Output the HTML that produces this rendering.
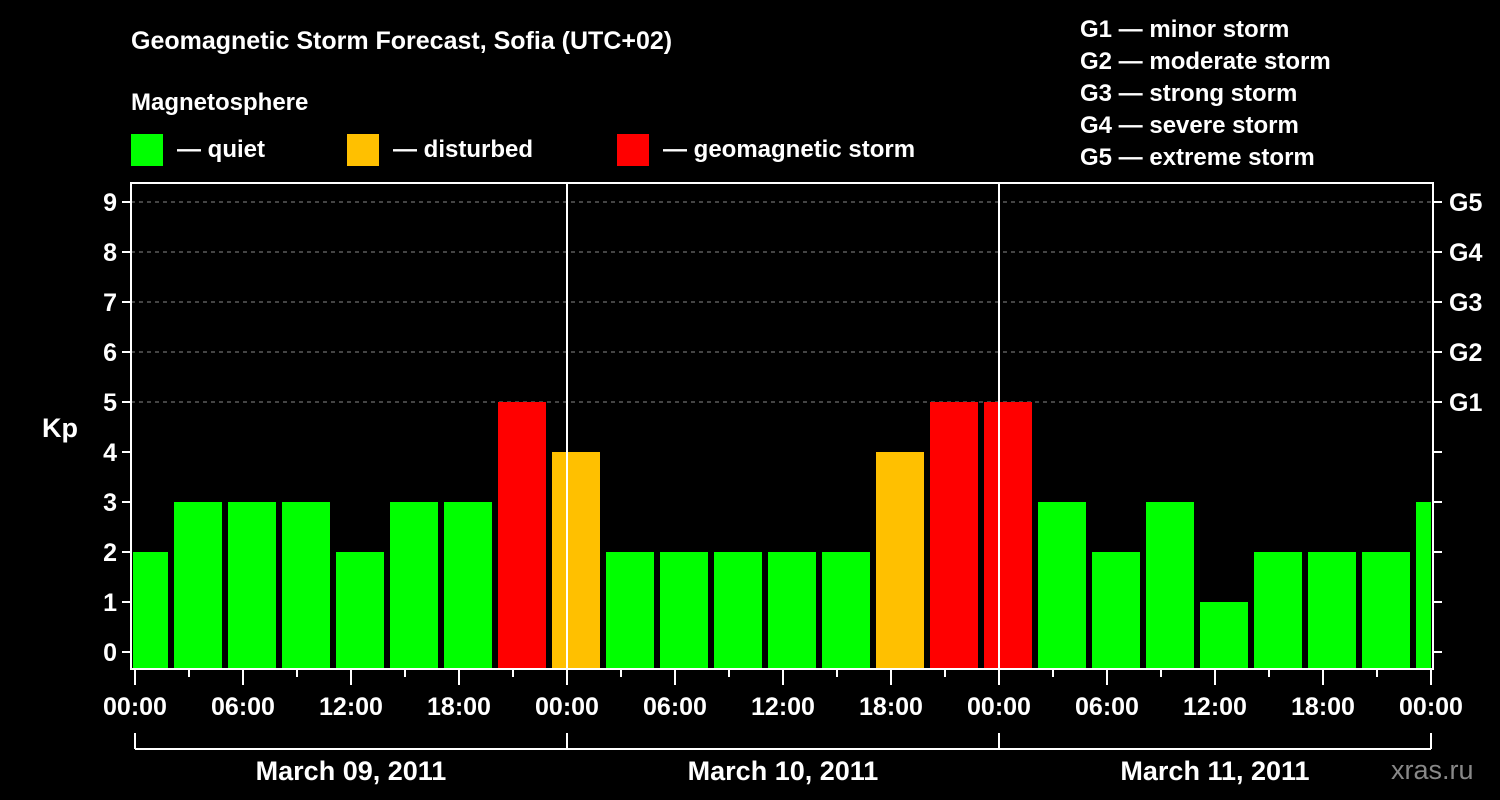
<!DOCTYPE html>
<html><head><meta charset="utf-8"><style>
body{margin:0;background:#000;}
svg{display:block;font-family:"Liberation Sans",Arial,sans-serif;font-weight:bold;}
</style></head><body>
<svg id="c" width="1500" height="800" viewBox="0 0 1500 800">
<rect width="1500" height="800" fill="#000"/>
<text x="131" y="49" fill="#fff" font-size="25">Geomagnetic Storm Forecast, Sofia (UTC+02)</text>
<text x="131" y="110" fill="#fff" font-size="24">Magnetosphere</text>
<g><rect x="131" y="134" width="32" height="32" fill="#00ff00"/><text x="177" y="157" fill="#fff" font-size="24">— quiet</text></g>
<g><rect x="347" y="134" width="32" height="32" fill="#ffc000"/><text x="393" y="157" fill="#fff" font-size="24">— disturbed</text></g>
<g><rect x="617" y="134" width="32" height="32" fill="#ff0000"/><text x="663" y="157" fill="#fff" font-size="24">— geomagnetic storm</text></g>
<g fill="#fff" font-size="24">
<text x="1080" y="37">G1 — minor storm</text>
<text x="1080" y="69">G2 — moderate storm</text>
<text x="1080" y="101">G3 — strong storm</text>
<text x="1080" y="133">G4 — severe storm</text>
<text x="1080" y="165">G5 — extreme storm</text>
</g>
<text x="42" y="437" fill="#fff" font-size="27">Kp</text>
<text x="1391" y="779" fill="#888" font-size="27" font-weight="normal">xras.ru</text>
<g id="plot"></g>
</svg>
<script>
const kpValues=[2,3,3,3,2,3,3,5,4,2,2,2,2,2,4,5,5,3,2,3,1,2,2,2,3];
const firstBarHour=0.5;
const barStepHours=3;
const yTicks=[0,1,2,3,4,5,6,7,8,9];
const gLabels=["G1","G2","G3","G4","G5"];
const xTickLabels=["00:00","06:00","12:00","18:00","00:00","06:00","12:00","18:00","00:00","06:00","12:00","18:00","00:00"];
const dayLabels=["March 09, 2011","March 10, 2011","March 11, 2011"];
const L=131,R=1433,T=183,B=669;
const x=h=>135+h*18;
const y=v=>652-v*50;
const ns="http://www.w3.org/2000/svg";
const g=document.getElementById('plot');
function mk(t,a,p){const e=document.createElementNS(ns,t);for(const k in a)e.setAttribute(k,a[k]);(p||g).appendChild(e);return e;}
const col=v=>v>=5?"#ff0000":(v>=4?"#ffc000":"#00ff00");
// clip
const cp=mk('clipPath',{id:'cl'});mk('rect',{x:L+2,y:T,width:R-L-4,height:B-T},cp);
// grid
for(let v=5;v<=9;v++){const ln=mk('line',{x1:L,x2:R,y1:y(v),y2:y(v),stroke:'#888','stroke-dasharray':'4,4','stroke-width':1});

}
// bars
const bg=mk('g',{'clip-path':'url(#cl)'});
kpValues.forEach((v,i)=>{const c=x(firstBarHour+i*barStepHours);
const r=mk('rect',{x:c-24,y:y(v),width:48,height:B-y(v),fill:col(v)},bg);

});
// day separators
[1,2].forEach(d=>{const ln=mk('line',{x1:x(24*d),x2:x(24*d),y1:T,y2:B,stroke:'#fff','stroke-width':2});

});
// frame
const fr=mk('rect',{x:L,y:T,width:R-L,height:B-T,fill:'none',stroke:'#fff','stroke-width':2});


// y ticks
yTicks.forEach(v=>{mk('line',{x1:L-9,x2:L,y1:y(v),y2:y(v),stroke:'#fff','stroke-width':2});
mk('line',{x1:R,x2:R+9,y1:y(v),y2:y(v),stroke:'#fff','stroke-width':2});
const t=mk('text',{x:L-14,y:y(v)+9,fill:'#fff','font-size':25,'text-anchor':'end'});t.textContent=v;

});
gLabels.forEach((s,i)=>{const t=mk('text',{x:R+16,y:y(5+i)+9,fill:'#fff','font-size':25});t.textContent=s;

});
// x ticks
for(let h=0;h<=72;h+=3){const maj=h%6===0;mk('line',{x1:x(h),x2:x(h),y1:B,y2:B+(maj?16:8),stroke:'#fff','stroke-width':2});}
xTickLabels.forEach((s,i)=>{const t=mk('text',{x:x(i*6),y:715,fill:'#fff','font-size':25,'text-anchor':'middle'});t.textContent=s;

});
// day brackets
mk('line',{x1:x(0),x2:x(72),y1:749,y2:749,stroke:'#fff','stroke-width':2});
for(let d=0;d<=3;d++)mk('line',{x1:x(24*d),x2:x(24*d),y1:733,y2:749,stroke:'#fff','stroke-width':2});
dayLabels.forEach((s,i)=>{const t=mk('text',{x:x(24*i+12),y:780,fill:'#fff','font-size':27,'text-anchor':'middle'});t.textContent=s;

});
</script>
</body></html>
